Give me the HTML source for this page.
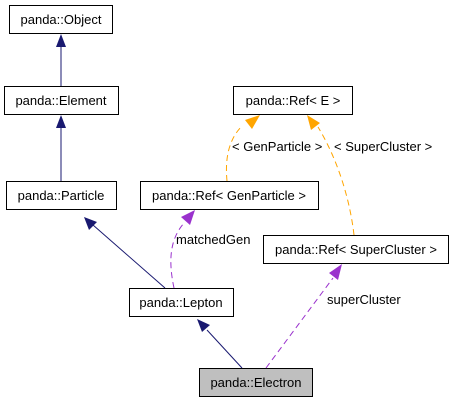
<!DOCTYPE html>
<html><head><meta charset="utf-8"><style>html,body{margin:0;padding:0;background:#fff}svg{display:block}text{font-family:"Liberation Sans",sans-serif;font-size:13px;fill:#000}</style></head>
<body>
<svg width="455" height="403" viewBox="0 0 455 403" xmlns="http://www.w3.org/2000/svg">
<g stroke="#000" stroke-width="1" fill="#fff">
<rect x="9.5" y="5.5" width="103" height="28"/>
<rect x="4.5" y="86.5" width="114" height="28"/>
<rect x="233.5" y="86.5" width="119" height="28"/>
<rect x="6.5" y="181.5" width="110" height="28"/>
<rect x="140.5" y="181.5" width="178" height="28"/>
<rect x="263.5" y="235.5" width="185" height="28"/>
<rect x="129.5" y="288.5" width="104" height="28"/>
<rect x="199.5" y="368.5" width="113" height="28" fill="#bfbfbf"/>
</g>
<text x="61" y="24" text-anchor="middle">panda::Object</text>
<text x="61" y="105" text-anchor="middle">panda::Element</text>
<text x="293" y="105" text-anchor="middle">panda::Ref&lt; E &gt;</text>
<text x="61" y="200" text-anchor="middle">panda::Particle</text>
<text x="229" y="200" text-anchor="middle">panda::Ref&lt; GenParticle &gt;</text>
<text x="356" y="254" text-anchor="middle">panda::Ref&lt; SuperCluster &gt;</text>
<text x="181" y="307" text-anchor="middle">panda::Lepton</text>
<text x="256" y="387" text-anchor="middle">panda::Electron</text>
<g stroke="#191970" fill="none">
<line x1="61" y1="86" x2="61" y2="46"/>
<line x1="61" y1="181" x2="61" y2="126"/>
<line x1="165" y1="288" x2="93" y2="225"/>
<line x1="242" y1="368" x2="207" y2="330"/>
</g>
<g fill="#191970">
<polygon points="61,34 56,47 66,47"/>
<polygon points="61,115 56,128 66,128"/>
<polygon points="84,217 89,230 97,222"/>
<polygon points="197,319 202,332 210,325"/>
</g>
<g stroke="#9a32cd" stroke-dasharray="6,4" fill="none">
<path d="M174,288 C168,260 170,238 185,222"/>
<path d="M266,368 L333,278"/>
</g>
<g fill="#9a32cd">
<polygon points="195,210 181,217 190,225"/>
<polygon points="342,264 329,273 338,280"/>
</g>
<g stroke="#ffa500" stroke-dasharray="6,4" fill="none">
<path d="M227,181 C225,160 228,140 242,126"/>
<path d="M354,235 C350,200 338,160 318,127"/>
</g>
<g fill="#ffa500">
<polygon points="260,115 245,120 252,129"/>
<polygon points="307,115 311,130 320,123"/>
</g>
<text x="176" y="244">matchedGen</text>
<text x="327" y="304">superCluster</text>
<text x="232" y="151">&lt; GenParticle &gt;</text>
<text x="334" y="151">&lt; SuperCluster &gt;</text>
</svg>
</body></html>
